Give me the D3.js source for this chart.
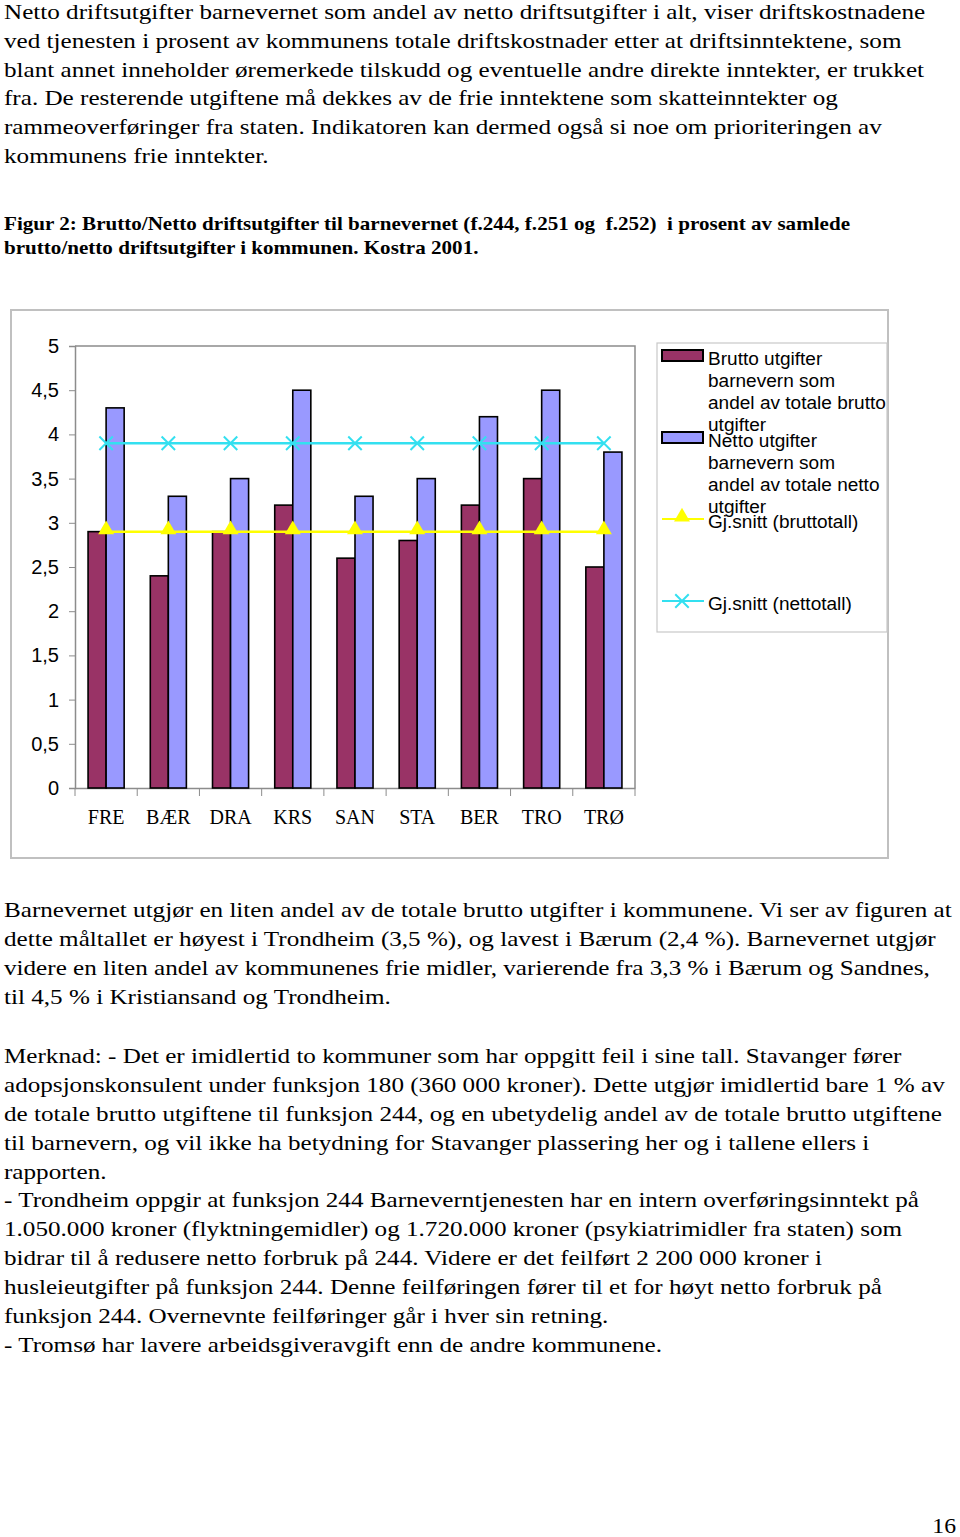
<!DOCTYPE html>
<html>
<head>
<meta charset="utf-8">
<script src="https://cdn.jsdelivr.net/npm/d3@7"></script>
<style>
  html, body { margin: 0; padding: 0; background: #fff; }
  svg { display: block; }
  text.pre { white-space: pre; }
</style>
</head>
<body>
<script>

// chart data
var kommuner = ["FRE", "BÆR", "DRA", "KRS", "SAN", "STA", "BER", "TRO", "TRØ"];
var brutto = [2.9, 2.4, 2.9, 3.2, 2.6, 2.8, 3.2, 3.5, 2.5];
var netto = [4.3, 3.3, 3.5, 4.5, 3.3, 3.5, 4.2, 4.5, 3.8];
var snittBrutto = [2.9, 2.9, 2.9, 2.9, 2.9, 2.9, 2.9, 2.9, 2.9];
var snittNetto = [3.9, 3.9, 3.9, 3.9, 3.9, 3.9, 3.9, 3.9, 3.9];
var yTicks = [0, 0.5, 1, 1.5, 2, 2.5, 3, 3.5, 4, 4.5, 5];

var legendItems = [
  { type: "bar", color: "#993366", lines: ["Brutto utgifter", "barnevern som", "andel av totale brutto", "utgifter"] },
  { type: "bar", color: "#9999ff", lines: ["Netto utgifter", "barnevern som", "andel av totale netto", "utgifter"] },
  { type: "tri", color: "#ffff00", lines: ["Gj.snitt (bruttotall)"] },
  { type: "x", color: "#33e0f0", lines: ["Gj.snitt (nettotall)"] }
];

var introLines = [
  "Netto driftsutgifter barnevernet som andel av netto driftsutgifter i alt, viser driftskostnadene",
  "ved tjenesten i prosent av kommunens totale driftskostnader etter at driftsinntektene, som",
  "blant annet inneholder øremerkede tilskudd og eventuelle andre direkte inntekter, er trukket",
  "fra. De resterende utgiftene må dekkes av de frie inntektene som skatteinntekter og",
  "rammeoverføringer fra staten. Indikatoren kan dermed også si noe om prioriteringen av",
  "kommunens frie inntekter."
];
var captionLines = [
  "Figur 2: Brutto/Netto driftsutgifter til barnevernet (f.244, f.251 og  f.252)  i prosent av samlede",
  "brutto/netto driftsutgifter i kommunen. Kostra 2001."
];
var resultLines = [
  "Barnevernet utgjør en liten andel av de totale brutto utgifter i kommunene. Vi ser av figuren at",
  "dette måltallet er høyest i Trondheim (3,5 %), og lavest i Bærum (2,4 %). Barnevernet utgjør",
  "videre en liten andel av kommunenes frie midler, varierende fra 3,3 % i Bærum og Sandnes,",
  "til 4,5 % i Kristiansand og Trondheim."
];
var noteLines = [
  "Merknad: - Det er imidlertid to kommuner som har oppgitt feil i sine tall. Stavanger fører",
  "adopsjonskonsulent under funksjon 180 (360 000 kroner). Dette utgjør imidlertid bare 1 % av",
  "de totale brutto utgiftene til funksjon 244, og en ubetydelig andel av de totale brutto utgiftene",
  "til barnevern, og vil ikke ha betydning for Stavanger plassering her og i tallene ellers i",
  "rapporten.",
  "- Trondheim oppgir at funksjon 244 Barneverntjenesten har en intern overføringsinntekt på",
  "1.050.000 kroner (flyktningemidler) og 1.720.000 kroner (psykiatrimidler fra staten) som",
  "bidrar til å redusere netto forbruk på 244. Videre er det feilført 2 200 000 kroner i",
  "husleieutgifter på funksjon 244. Denne feilføringen fører til et for høyt netto forbruk på",
  "funksjon 244. Overnevnte feilføringer går i hver sin retning.",
  "- Tromsø har lavere arbeidsgiveravgift enn de andre kommunene."
];

var W = 960, H = 1537;
var serif = "'Liberation Serif', 'Times New Roman', serif";
var sans = "'Liberation Sans', Arial, sans-serif";

var svg = d3.select("body").append("svg")
  .attr("width", W)
  .attr("height", H);

// plain text blocks (the scanned page runs a bit wider than Times, hence the stretch)
function textBlock(lines, y0, step, opts) {
  opts = opts || {};
  svg.append("g")
    .attr("transform", "translate(4,0) scale(" + (opts.stretch || 1.17) + ",1)")
    .selectAll("text")
    .data(lines)
    .join("text")
    .attr("class", "pre")
    .attr("x", 0)
    .attr("y", function(d, i) { return y0 + i * step; })
    .attr("font-family", serif)
    .attr("font-size", opts.size || 21.5)
    .attr("font-weight", opts.weight || "normal")
    .attr("fill", "#000")
    .text(function(d) { return d; });
}

textBlock(introLines, 19, 28.8);
textBlock(captionLines, 230, 24.5, { size: 18.5, weight: "bold", stretch: 1.14 });
textBlock(resultLines, 917, 28.9);
textBlock(noteLines, 1063, 28.9);

svg.append("text")
  .attr("transform", "translate(956,1533) scale(1.1,1)")
  .attr("text-anchor", "end")
  .attr("font-family", serif)
  .attr("font-size", 21.5)
  .text("16");

/* chart */
var frame = { x: 11, y: 310, w: 877, h: 548 };
var plot = { left: 75, right: 635, top: 346, bottom: 788 };

svg.append("rect")
  .attr("x", frame.x).attr("y", frame.y)
  .attr("width", frame.w).attr("height", frame.h)
  .attr("fill", "#fff")
  .attr("stroke", "#c0c0c0")
  .attr("stroke-width", 2);

var x = d3.scaleBand()
  .domain(kommuner)
  .range([plot.left, plot.right]);

var y = d3.scaleLinear()
  .domain([0, 5])
  .range([plot.bottom, plot.top]);

var barW = x.bandwidth() * 0.29;

var chart = svg.append("g").attr("class", "chart");

// plot border (top / right)
chart.append("path")
  .attr("d", "M" + plot.left + "," + plot.top + "H" + plot.right + "V" + plot.bottom)
  .attr("fill", "none")
  .attr("stroke", "#8c8c8c")
  .attr("stroke-width", 1.5);

// y axis
var yAxis = chart.append("g")
  .attr("transform", "translate(" + plot.left + ",0)")
  .call(d3.axisLeft(y)
    .tickValues(yTicks)
    .tickSize(6)
    .tickPadding(10)
    .tickFormat(function(d) { return String(d).replace(".", ","); }));
yAxis.select(".domain").attr("stroke", "#8c8c8c").attr("stroke-width", 1.5);
yAxis.selectAll(".tick line").attr("stroke", "#8c8c8c");
yAxis.selectAll(".tick text")
  .attr("font-family", sans)
  .attr("font-size", 20)
  .attr("fill", "#000");

// x axis, ticks on band boundaries
var xAxis = chart.append("g")
  .attr("transform", "translate(0," + plot.bottom + ")")
  .call(d3.axisBottom(x).tickSize(0).tickPadding(22));
xAxis.select(".domain").attr("stroke", "#8c8c8c").attr("stroke-width", 1.5);
xAxis.selectAll(".tick text")
  .attr("font-family", serif)
  .attr("font-size", 20)
  .attr("fill", "#000");

chart.append("g").selectAll("line")
  .data(kommuner.concat(["end"]))
  .join("line")
  .attr("x1", function(d, i) { return plot.left + i * x.step(); })
  .attr("x2", function(d, i) { return plot.left + i * x.step(); })
  .attr("y1", plot.bottom)
  .attr("y2", plot.bottom + 8)
  .attr("stroke", "#8c8c8c");

// bars
function drawBars(values, offset, color) {
  chart.append("g").selectAll("rect")
    .data(values)
    .join("rect")
    .attr("x", function(d, i) { return x(kommuner[i]) + x.bandwidth() / 2 + offset; })
    .attr("y", function(d) { return y(d); })
    .attr("width", barW)
    .attr("height", function(d) { return y(0) - y(d); })
    .attr("fill", color)
    .attr("stroke", "#000")
    .attr("stroke-width", 1.6);
}
drawBars(brutto, -barW, "#993366");
drawBars(netto, 0, "#9999ff");

// average lines
var cx = function(d, i) { return x(kommuner[i]) + x.bandwidth() / 2; };
var line = d3.line().x(cx).y(function(d) { return y(d); });

chart.append("path")
  .datum(snittBrutto)
  .attr("d", line)
  .attr("fill", "none")
  .attr("stroke", "#ffff00")
  .attr("stroke-width", 2.5);

chart.append("path")
  .datum(snittNetto)
  .attr("d", line)
  .attr("fill", "none")
  .attr("stroke", "#33e0f0")
  .attr("stroke-width", 2.5);

var tri = d3.symbol().type(d3.symbolTriangle).size(110);
var cross = d3.symbol().type(d3.symbolX).size(120);

chart.append("g").selectAll("path")
  .data(snittBrutto)
  .join("path")
  .attr("transform", function(d, i) { return "translate(" + cx(d, i) + "," + (y(d) - 2) + ")"; })
  .attr("d", tri)
  .attr("fill", "#ffff00");

chart.append("g").selectAll("path")
  .data(snittNetto)
  .join("path")
  .attr("transform", function(d, i) { return "translate(" + cx(d, i) + "," + y(d) + ")"; })
  .attr("d", cross)
  .attr("fill", "none")
  .attr("stroke", "#33e0f0")
  .attr("stroke-width", 2);

// legend
var legend = svg.append("g").attr("class", "legend");

legend.append("rect")
  .attr("x", 657).attr("y", 343)
  .attr("width", 230).attr("height", 289)
  .attr("fill", "#fff")
  .attr("stroke", "#c8c8c8")
  .attr("stroke-width", 1.2);

var legendY = [365, 447, 528, 610];  // first baseline of each entry
var lineH = 22;

legendItems.forEach(function(item, k) {
  var g = legend.append("g");
  var by = legendY[k];

  if (item.type == "bar") {
    g.append("rect")
      .attr("x", 662).attr("y", by - 15)
      .attr("width", 41).attr("height", 11)
      .attr("fill", item.color)
      .attr("stroke", "#000")
      .attr("stroke-width", 2);
  } else {
    var my = by - 9;
    g.append("line")
      .attr("x1", 662).attr("x2", 704)
      .attr("y1", my).attr("y2", my)
      .attr("stroke", item.color)
      .attr("stroke-width", 2);
    if (item.type == "tri") {
      g.append("path")
        .attr("transform", "translate(682," + (my - 2) + ")")
        .attr("d", tri)
        .attr("fill", item.color);
    } else {
      g.append("path")
        .attr("transform", "translate(682," + my + ")")
        .attr("d", cross)
        .attr("fill", "none")
        .attr("stroke", item.color)
        .attr("stroke-width", 2);
    }
  }

  g.append("g")
    .attr("transform", "translate(708,0) scale(1.03,1)")
    .selectAll("text")
    .data(item.lines)
    .join("text")
    .attr("x", 0)
    .attr("y", function(d, i) { return by + i * lineH; })
    .attr("font-family", sans)
    .attr("font-size", 18.5)
    .attr("fill", "#000")
    .text(function(d) { return d; });
});

</script>
</body>
</html>
